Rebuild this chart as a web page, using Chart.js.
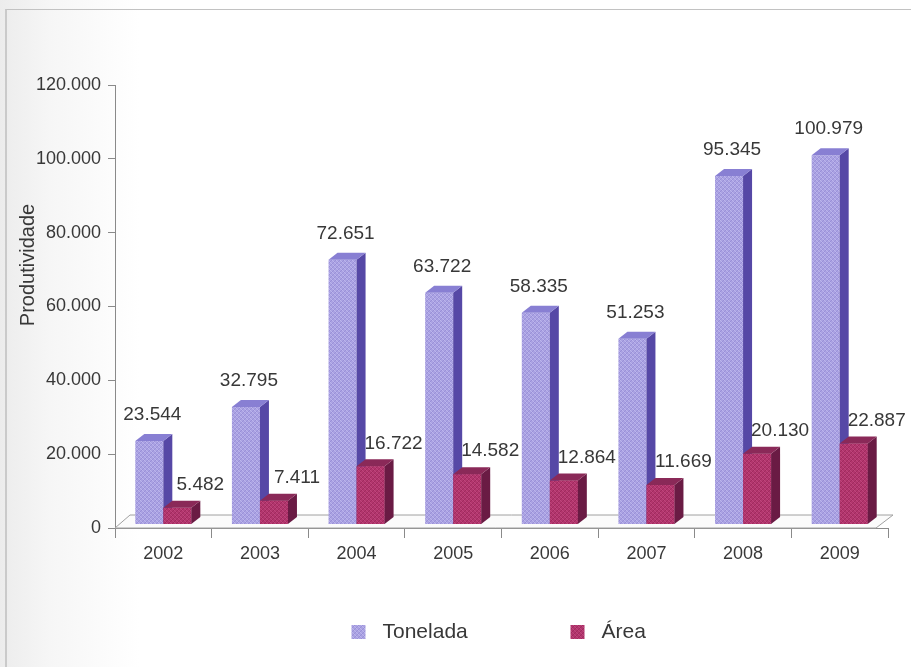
<!DOCTYPE html>
<html>
<head>
<meta charset="utf-8">
<script src="https://cdn.jsdelivr.net/npm/chart.js@4/dist/chart.umd.min.js"></script>
<style>
  html, body { margin: 0; padding: 0; background: #fff; }
  #wrap { position: relative; width: 911px; height: 667px; overflow: hidden;
          background: linear-gradient(to right, #ececec 0px, #f6f6f6 50px, #ffffff 140px); }
  #frame { position: absolute; left: 5px; top: 9px; width: 920px; height: 700px;
           border-left: 2px solid #cacaca; border-top: 1px solid #c2c2c2; }
  canvas { position: absolute; left: 0; top: 0; }
</style>
</head>
<body>
<div id="wrap">
  <div id="frame"></div>
  <canvas id="grafico" width="911" height="667"></canvas>
</div>
<script>
// dados
var anos = ['2002', '2003', '2004', '2005', '2006', '2007', '2008', '2009'];
var tonelada = [23544, 32795, 72651, 63722, 58335, 51253, 95345, 100979];
var area = [5482, 7411, 16722, 14582, 12864, 11669, 20130, 22887];
var seriesNomes = ['Tonelada', 'Área'];
var yTicks = [0, 20000, 40000, 60000, 80000, 100000, 120000];

var corLado = ['#5648a6', '#6a1b44'];
var corTopo = ['#887fd3', '#8a2958'];
var dx = 9, dy = 7;
var fonte = '"Liberation Sans", Arial, sans-serif';
var corTexto = '#383838';

function fmt(v) {
    return String(v).replace(/\B(?=(\d{3})+(?!\d))/g, '.');
}

// textura quadriculada das faces frontais
function hachura(base, claro, escuro) {
    var c = document.createElement('canvas');
    c.width = 4; c.height = 4;
    var g = c.getContext('2d');
    g.fillStyle = base;
    g.fillRect(0, 0, 4, 4);
    for (var i = 0; i < 4; i++) {
        g.fillStyle = claro;
        g.fillRect(i, i, 1, 1);
        g.fillStyle = escuro;
        g.fillRect(3 - i, i, 1, 1);
    }
    return document.getElementById('grafico').getContext('2d').createPattern(c, 'repeat');
}
var corFrente = [
    hachura('#aaa2e2', '#bcb5ed', '#9990d8'),
    hachura('#b2356d', '#bf467c', '#a02a5e')
];

var barras3d = {
    id: 'barras3d',
    beforeDatasetsDraw: function(chart) {
        // piso
        var ctx = chart.ctx, a = chart.chartArea;
        var y0 = chart.scales.y.getPixelForValue(0);
        ctx.save();
        ctx.fillStyle = '#fbfbfb';
        ctx.strokeStyle = '#a0a0a0';
        ctx.lineWidth = 1;
        ctx.beginPath();
        ctx.moveTo(a.left, y0);
        ctx.lineTo(a.left + 15, y0 - 13);
        ctx.lineTo(a.right + 5, y0 - 13);
        ctx.lineTo(a.right - 12, y0);
        ctx.closePath();
        ctx.fill();
        ctx.stroke();
        ctx.restore();
    },
    afterDatasetsDraw: function(chart) {
        var ctx = chart.ctx;
        var m0 = chart.getDatasetMeta(0), m1 = chart.getDatasetMeta(1);
        ctx.save();
        for (var i = 0; i < anos.length; i++) {
            [m0.data[i], m1.data[i]].forEach(function(bar, s) {
                var p = bar.getProps(['x', 'y', 'base', 'width'], true);
                var l = p.x - p.width / 2, r = p.x + p.width / 2;
                if (s === 1) {
                    // frente da Área por cima do lado da Tonelada
                    ctx.fillStyle = corFrente[1];
                    ctx.fillRect(l, p.y, p.width, p.base - p.y);
                }
                ctx.fillStyle = corLado[s];
                ctx.beginPath();
                ctx.moveTo(r, p.y);
                ctx.lineTo(r + dx, p.y - dy);
                ctx.lineTo(r + dx, p.base - dy);
                ctx.lineTo(r, p.base);
                ctx.closePath();
                ctx.fill();
                ctx.fillStyle = corTopo[s];
                ctx.beginPath();
                ctx.moveTo(l, p.y);
                ctx.lineTo(l + dx, p.y - dy);
                ctx.lineTo(r + dx, p.y - dy);
                ctx.lineTo(r, p.y);
                ctx.closePath();
                ctx.fill();
            });
        }
        // rótulos de valor
        ctx.fillStyle = corTexto;
        ctx.font = '19px ' + fonte;
        ctx.textAlign = 'center';
        ctx.textBaseline = 'middle';
        m0.data.forEach(function(bar, i) {
            ctx.fillText(fmt(tonelada[i]), bar.x + 3, bar.y - 26);
        });
        m1.data.forEach(function(bar, i) {
            ctx.fillText(fmt(area[i]), bar.x + 23, bar.y - 23);
        });
        ctx.restore();
    },
    afterDraw: function(chart) {
        var ctx = chart.ctx, a = chart.chartArea;
        ctx.save();
        // título do eixo y
        ctx.fillStyle = corTexto;
        ctx.font = '20px ' + fonte;
        ctx.textAlign = 'center';
        ctx.textBaseline = 'middle';
        ctx.translate(28, 265);
        ctx.rotate(-Math.PI / 2);
        ctx.fillText('Produtividade', 0, 0);
        ctx.restore();

        // legenda
        var cx = (a.left + a.right) / 2;
        var yl = a.bottom + 104;
        var xs = [cx - 150, cx + 69];
        ctx.save();
        ctx.font = '21px ' + fonte;
        ctx.textBaseline = 'middle';
        ctx.textAlign = 'left';
        seriesNomes.forEach(function(nome, s) {
            ctx.fillStyle = corFrente[s];
            ctx.fillRect(xs[s], yl - 7, 14, 14);
            ctx.fillStyle = corTexto;
            ctx.fillText(nome, xs[s] + 31, yl);
        });
        ctx.restore();
    }
};

var ctx = document.getElementById('grafico').getContext('2d');
var grafico = new Chart(ctx, {
    type: 'bar',
    data: {
        labels: anos,
        datasets: [{
            label: seriesNomes[0],
            data: tonelada,
            backgroundColor: corFrente[0],
            base: 1100
        }, {
            label: seriesNomes[1],
            data: area,
            backgroundColor: corFrente[1],
            base: 1100
        }]
    },
    options: {
        responsive: false,
        animation: false,
        devicePixelRatio: 1,
        categoryPercentage: 0.58,
        barPercentage: 1.0,
        layout: { padding: { left: 8, top: 85, right: 23, bottom: 0 } },
        plugins: {
            legend: { display: false },
            tooltip: { enabled: false }
        },
        scales: {
            x: {
                grid: { display: true, drawOnChartArea: false, tickLength: 10, color: '#8a8a8a', offset: true },
                border: { display: true, color: '#8a8a8a' },
                ticks: { color: corTexto, font: { family: fonte, size: 18 }, padding: 5 },
                afterFit: function(scale) { scale.height = 139; }
            },
            y: {
                min: 0,
                max: 120000,
                afterBuildTicks: function(scale) {
                    scale.ticks = yTicks.map(function(v) { return { value: v }; });
                },
                grid: { display: true, drawOnChartArea: false, tickLength: 7, color: '#8a8a8a' },
                border: { display: true, color: '#8a8a8a' },
                ticks: {
                    color: corTexto,
                    font: { family: fonte, size: 18 },
                    padding: 7,
                    callback: function(v) { return fmt(v); }
                },
                afterFit: function(scale) { scale.width = 107; }
            }
        }
    },
    plugins: [barras3d]
});
</script>
</body>
</html>
